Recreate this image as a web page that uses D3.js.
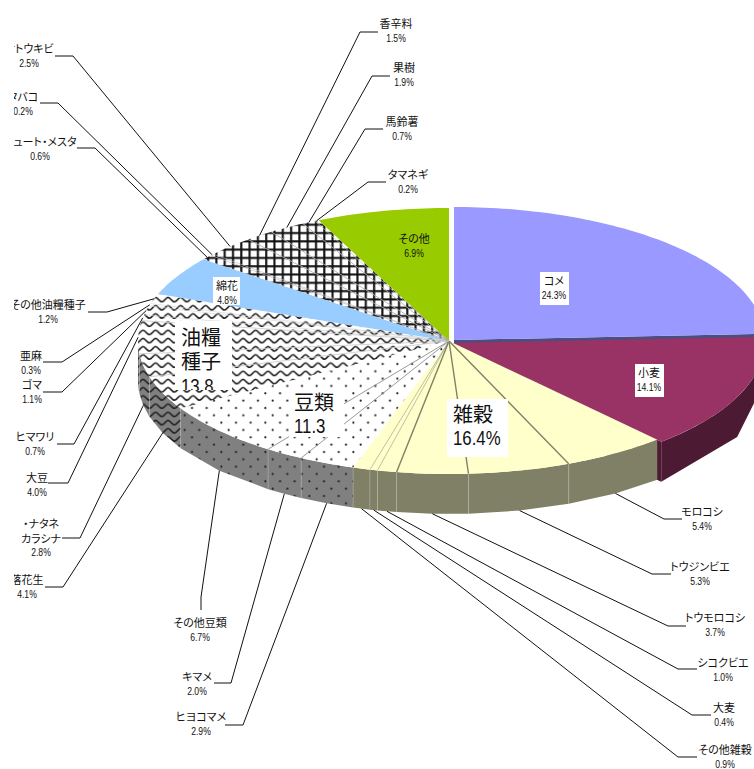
<!DOCTYPE html>
<html>
<head>
<meta charset="utf-8">
<script src="https://cdn.jsdelivr.net/npm/d3@7/dist/d3.min.js"></script>
<style>
  html, body { margin: 0; padding: 0; background: #fff; }
  svg { display: block; }
  text { font-family: "Noto Sans CJK JP", sans-serif; font-feature-settings: "palt"; fill: #111; }
  text.num { font-family: "Liberation Sans", sans-serif; }
</style>
</head>
<body>
<svg id="chart" width="754" height="769"></svg>
<script>
// slices, clockwise from 12 o'clock
const cropNames = ['コメ', '小麦', 'モロコシ', 'トウジンビエ', 'トウモロコシ', 'シコクビエ', '大麦', 'その他雑穀',
  'ヒヨコマメ', 'キマメ', 'その他豆類', '落花生', '・ナタネ\nカラシナ', '大豆', 'ヒマワリ', 'ゴマ', '亜麻', 'その他油糧種子',
  '綿花', 'ジュート・メスタ', 'タバコ', 'サトウキビ', '香辛料', '果樹', '馬鈴薯', 'タマネギ', 'その他'];
const cropShares = [24.3, 14.1, 5.4, 5.3, 3.7, 1.0, 0.4, 0.9,
  2.9, 2.0, 6.7, 4.1, 2.8, 4.0, 0.7, 1.1, 0.3, 1.2,
  4.8, 0.6, 0.2, 2.5, 1.5, 1.9, 0.7, 0.2, 6.9];
const cropGroups = ['rice', 'wheat', 'grain', 'grain', 'grain', 'grain', 'grain', 'grain',
  'bean', 'bean', 'bean', 'oil', 'oil', 'oil', 'oil', 'oil', 'oil', 'oil',
  'cotton', 'misc', 'misc', 'misc', 'misc', 'misc', 'misc', 'misc', 'other'];

// big labels sitting on the grouped slices
const groupTitles = ['油糧\n種子\n13.8', '豆類\n11.3', '雑穀\n16.4%'];

const width = 754, height = 769;
const cx = 449, cy = 341, rx = 311, ry = 133, depth = 40;
const toX = d3.scaleLinear().domain([-1, 1]).range([cx - rx, cx + rx]);
const toY = d3.scaleLinear().domain([-1, 1]).range([cy - ry, cy + ry]);

const faces = {
  rice: { top: '#9999ff', side: '#4d4d80', line: '#4d4d80', dx: 5, dy: -1 },
  wheat: { top: '#993366', side: '#4d1a33', line: '#4d1a33', dx: 4, dy: 2 },
  grain: { top: '#ffffcc', side: '#808066', line: '#808066' },
  bean: { top: 'url(#dots)', side: 'url(#dotsDark)', line: '#808080' },
  oil: { top: 'url(#wave)', side: 'url(#waveDark)', line: '#c8c8c8' },
  cotton: { top: '#99ccff', side: '#4d6680', line: '#4d6680' },
  misc: { top: 'url(#hatch)', side: 'url(#hatchDark)', line: '#aaaaaa' },
  other: { top: '#99cc00', side: '#4d6600', line: '#4d6600' }
};

// hand placed labels: text centre, elbow of the leader, end of the leader
const labelSpots = {
  'モロコシ': { x: 702, y: 511, elbow: [664, 519], end: [682, 519] },
  'トウジンビエ': { x: 700, y: 566, elbow: [652, 574], end: [671, 574] },
  'トウモロコシ': { x: 715, y: 617, elbow: [668, 626], end: [686, 626] },
  'シコクビエ': { x: 723, y: 662, elbow: [678, 669], end: [697, 669] },
  '大麦': { x: 724, y: 707, elbow: [692, 715], end: [711, 715] },
  'その他雑穀': { x: 725, y: 749, elbow: [678, 757], end: [697, 757] },
  'ヒヨコマメ': { x: 201, y: 716, elbow: [243, 725], end: [225, 725] },
  'キマメ': { x: 197, y: 676, elbow: [231, 683], end: [214, 683] },
  'その他豆類': { x: 200, y: 622, elbow: [201, 597], end: [201, 610] },
  '落花生': { x: 27, y: 579, elbow: [63, 587], end: [45, 587] },
  '・ナタネ\nカラシナ': { x: 41, y: 523, elbow: [80, 538], end: [62, 538] },
  '大豆': { x: 37, y: 477, elbow: [68, 483], end: [48, 483] },
  'ヒマワリ': { x: 35, y: 436, elbow: [74, 444], end: [57, 444] },
  'ゴマ': { x: 32, y: 384, elbow: [62, 392], end: [43, 392] },
  '亜麻': { x: 31, y: 355, elbow: [62, 362], end: [43, 362] },
  'その他油糧種子': { x: 48, y: 304, elbow: [107, 312], end: [88, 312] },
  'ジュート・メスタ': { x: 40, y: 141, elbow: [95, 148], end: [77, 148] },
  'タバコ': { x: 23, y: 96, elbow: [58, 103], end: [40, 103] },
  'サトウキビ': { x: 29, y: 48, elbow: [73, 56], end: [55, 56] },
  '香辛料': { x: 396, y: 23, elbow: [360, 32], end: [378, 32] },
  '果樹': { x: 404, y: 67, elbow: [372, 76], end: [390, 76] },
  '馬鈴薯': { x: 402, y: 121, elbow: [365, 129], end: [383, 129] },
  'タマネギ': { x: 408, y: 174, elbow: [368, 182], end: [386, 182] }
};
// labels drawn on the pie itself, some on a white box
const insideSpots = {
  'コメ': { x: 554, y: 280, box: [540, 272, 29, 33] },
  '小麦': { x: 649, y: 372, box: [635, 364, 29, 33] },
  '綿花': { x: 227, y: 285, box: [213, 277, 27, 28] },
  'その他': { x: 414, y: 238 }
};
const titleSpots = [
  { x: 181, y: 336, box: [175, 321, 57, 69] },
  { x: 294, y: 401, box: [289, 388, 55, 49] },
  { x: 453, y: 413, box: [447, 399, 61, 58] }
];

const svg = d3.select('#chart');
const defs = svg.append('defs');

function dotPattern(id, back) {
  const p = defs.append('pattern').attr('id', id).attr('patternUnits', 'userSpaceOnUse')
    .attr('width', 14.67).attr('height', 14.67);
  p.append('rect').attr('width', 14.67).attr('height', 14.67).attr('fill', back);
  [[1.3, 11.9], [8.6, 4.6]].forEach(d => {
    p.append('circle').attr('cx', d[0]).attr('cy', d[1]).attr('r', 1.1).attr('fill', '#222');
  });
}
function wavePattern(id, back, ink) {
  const p = defs.append('pattern').attr('id', id).attr('patternUnits', 'userSpaceOnUse')
    .attr('width', 12.5).attr('height', 8.2);
  p.append('rect').attr('width', 12.5).attr('height', 8.2).attr('fill', back);
  p.append('path').attr('d', 'M-0.65,6.6 C1.6,6.6 3.4,2.2 5.6,2.2 C7.8,2.2 9.6,6.6 11.85,6.6 C14.1,6.6 15.9,2.2 18.1,2.2')
    .attr('fill', 'none').attr('stroke', ink).attr('stroke-width', 1.6);
}
function hatchPattern(id, back, ink) {
  const p = defs.append('pattern').attr('id', id).attr('patternUnits', 'userSpaceOnUse')
    .attr('width', 8.3).attr('height', 8.3).attr('patternTransform', 'translate(-3.4,-3.4)');
  p.append('rect').attr('width', 8.3).attr('height', 8.3).attr('fill', back);
  p.append('path').attr('d', 'M4,0 V8.3 M0,4 H8.3').attr('stroke', ink).attr('stroke-width', 2.1);
}
dotPattern('dots', '#fff');
dotPattern('dotsDark', '#808080');
wavePattern('wave', '#fff', '#222');
wavePattern('waveDark', '#808080', '#222');
hatchPattern('hatch', '#fff', '#111');
hatchPattern('hatchDark', '#808080', '#111');

const slices = d3.pie().sort(null)(cropShares).map((d, i) => {
  const face = faces[cropGroups[i]];
  return { name: cropNames[i], share: cropShares[i], group: cropGroups[i], face,
    a0: d.startAngle, a1: d.endAngle, mid: (d.startAngle + d.endAngle) / 2,
    dx: face.dx || 0, dy: face.dy || 0 };
});

const rim = (s, a, down) => [toX(Math.sin(a)) + s.dx, toY(-Math.cos(a)) + s.dy + (down || 0)];
const outline = d3.line();

function arcPoints(s, from, to, down) {
  const steps = Math.max(2, Math.ceil((to - from) / 0.02));
  return d3.range(steps + 1).map(k => rim(s, from + (to - from) * k / steps, down));
}

// only the front half of the rim shows a wall
const isFront = a => a > Math.PI / 2 && a < Math.PI * 1.5;

function wallPath(s) {
  const from = Math.max(s.a0, Math.PI / 2), to = Math.min(s.a1, Math.PI * 1.5);
  if (from >= to) return null;
  return outline(arcPoints(s, from, to).concat(arcPoints(s, to, from, depth))) + 'Z';
}
function topPath(s) {
  const apex = [cx + s.dx, cy + s.dy];
  return outline([apex].concat(arcPoints(s, s.a0, s.a1))) + 'Z';
}

// digits in the original are a narrow face, none is installed so squeeze them
function squeeze(sel, k) {
  const len = sel.node().getComputedTextLength();
  sel.attr('textLength', len * k).attr('lengthAdjust', 'spacingAndGlyphs');
}

// cut faces of the two pulled out slices
svg.append('g').selectAll('path')
  .data(slices.filter(s => s.dx))
  .join('path')
  .attr('d', s => {
    const apex = [cx + s.dx, cy + s.dy];
    const edge = rim(s, s.a1);
    return outline([apex, edge, [edge[0], edge[1] + depth], [apex[0], apex[1] + depth]]) + 'Z';
  })
  .attr('fill', s => s.face.side);

svg.append('g').selectAll('path')
  .data(slices.filter(s => wallPath(s)))
  .join('path')
  .attr('d', wallPath)
  .attr('fill', s => s.face.side);

// light seams between the wall pieces
svg.append('g').selectAll('line')
  .data(slices.filter(s => isFront(s.a1) && s.group !== 'wheat'))
  .join('line')
  .attr('x1', s => rim(s, s.a1)[0]).attr('y1', s => rim(s, s.a1)[1])
  .attr('x2', s => rim(s, s.a1)[0]).attr('y2', s => rim(s, s.a1)[1] + depth)
  .attr('stroke', '#c4c4c4').attr('stroke-opacity', 0.45).attr('stroke-width', 0.8);

svg.append('g').selectAll('path')
  .data(slices)
  .join('path')
  .attr('d', topPath)
  .attr('fill', s => s.face.top);

// thin lines between slices of a group
svg.append('g').selectAll('line')
  .data(slices.filter((s, i) => i + 1 < slices.length && slices[i + 1].group === s.group))
  .join('line')
  .attr('x1', cx).attr('y1', cy)
  .attr('x2', s => rim(s, s.a1)[0]).attr('y2', s => rim(s, s.a1)[1])
  .attr('stroke', s => s.face.line)
  .attr('stroke-width', s => s.share < 1.5 ? 0.5 : (s.group === 'grain' ? 1.4 : 0.8));

// outside labels, cut off by the plot frame on the left
defs.append('clipPath').attr('id', 'frame')
  .append('rect').attr('x', 14).attr('y', 0).attr('width', width - 14).attr('height', height);

const outer = slices.filter(s => labelSpots[s.name]);
svg.append('g').selectAll('path')
  .data(outer)
  .join('path')
  .attr('d', s => {
    const start = rim(s, s.mid, isFront(s.mid) ? depth : 0);
    return outline([start, labelSpots[s.name].elbow, labelSpots[s.name].end]);
  })
  .attr('fill', 'none').attr('stroke', '#111').attr('stroke-width', 1);

const labels = svg.append('g').attr('clip-path', 'url(#frame)');

function putLabel(parent, name, share, spot) {
  const lines = name.split('\n');
  lines.forEach((t, i) => {
    parent.append('text').attr('x', spot.x).attr('y', spot.y + i * 15)
      .attr('text-anchor', 'middle').attr('dominant-baseline', 'central')
      .attr('font-size', 11).text(t);
  });
  const pct = parent.append('text').attr('class', 'num').attr('x', spot.x).attr('y', spot.y + lines.length * 14.7)
    .attr('text-anchor', 'middle').attr('dominant-baseline', 'central')
    .attr('font-size', 10.5).text(d3.format('.1f')(share) + '%');
  squeeze(pct, 0.82);
}

outer.forEach(s => putLabel(labels, s.name, s.share, labelSpots[s.name]));

slices.filter(s => insideSpots[s.name]).forEach(s => {
  const spot = insideSpots[s.name];
  if (spot.box) {
    labels.append('rect').attr('x', spot.box[0]).attr('y', spot.box[1])
      .attr('width', spot.box[2]).attr('height', spot.box[3]).attr('fill', '#fff');
  }
  putLabel(labels, s.name, s.share, spot);
});

// big group titles; the oil seed one overflows its box and gets cut
groupTitles.forEach((title, i) => {
  const spot = titleSpots[i];
  const id = 'titleBox' + i;
  defs.append('clipPath').attr('id', id).append('rect')
    .attr('x', spot.box[0]).attr('y', spot.box[1]).attr('width', spot.box[2]).attr('height', spot.box[3]);
  const g = svg.append('g').attr('clip-path', `url(#${id})`);
  g.append('rect').attr('x', spot.box[0]).attr('y', spot.box[1])
    .attr('width', spot.box[2]).attr('height', spot.box[3]).attr('fill', '#fff');
  title.split('\n').forEach((t, k) => {
    const isNum = /\d/.test(t);
    const line = g.append('text').attr('class', isNum ? 'num' : null)
      .attr('x', spot.x).attr('y', spot.y + k * 24.5)
      .attr('dominant-baseline', 'central')
      .attr('font-size', isNum ? 21 : 20).text(t);
    if (isNum) squeeze(line, 0.8);
  });
});
</script>
</body>
</html>
